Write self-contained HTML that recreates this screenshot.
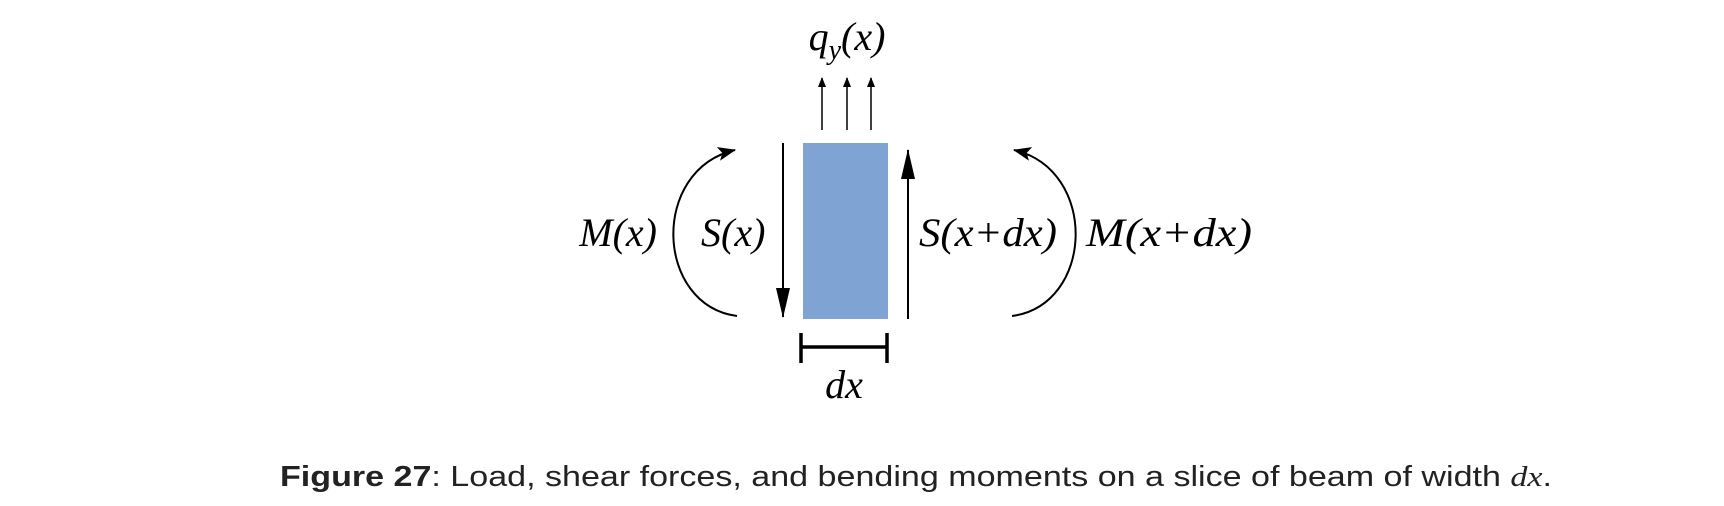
<!DOCTYPE html>
<html><head><meta charset="utf-8"><style>
html,body{margin:0;padding:0;background:#fff;width:1724px;height:506px;overflow:hidden}
svg{display:block}
.m{font-family:"Liberation Serif",serif;font-style:italic;font-size:40px;fill:#000}
</style></head><body>
<svg width="1724" height="506" viewBox="0 0 1724 506">
<defs>
<marker id="bigv" markerWidth="30" markerHeight="14" refX="29" refY="7" orient="auto" markerUnits="userSpaceOnUse" viewBox="0 0 30 14"><path d="M0,0 L30,7 L0,14 Z" fill="#000"/></marker>
<marker id="small" markerWidth="10" markerHeight="8" refX="9" refY="4" orient="auto" markerUnits="userSpaceOnUse" viewBox="0 0 10 8"><path d="M0,0 L10,4 L0,8 Z" fill="#000"/></marker>
<marker id="arc" markerWidth="18" markerHeight="14" refX="17" refY="7" orient="auto" markerUnits="userSpaceOnUse" viewBox="0 0 18 14"><path d="M0,0 L18,7 L0,14 L4,7 Z" fill="#000"/></marker>
</defs>
<text class="m" x="847" y="50" text-anchor="middle">q<tspan font-size="28" dy="9">y</tspan><tspan dy="-9">(x)</tspan></text>
<g stroke="#000" stroke-width="1.5">
<line x1="822" y1="130" x2="822" y2="78" marker-end="url(#small)"/>
<line x1="847" y1="130" x2="847" y2="78" marker-end="url(#small)"/>
<line x1="871" y1="130" x2="871" y2="78" marker-end="url(#small)"/>
</g>
<rect x="803" y="143" width="85" height="176" fill="#7fa3d3"/>
<line x1="783" y1="143" x2="783" y2="317" stroke="#000" stroke-width="2" marker-end="url(#bigv)"/>
<line x1="908" y1="319" x2="908" y2="150" stroke="#000" stroke-width="2" marker-end="url(#bigv)"/>
<path d="M737,316 C655,305 650,170 735,150" fill="none" stroke="#000" stroke-width="2" marker-end="url(#arc)"/>
<path d="M1012,316 C1094,305 1099,170 1014,150" fill="none" stroke="#000" stroke-width="2" marker-end="url(#arc)"/>
<text class="m" x="657" y="246" text-anchor="end">M(x)</text>
<text class="m" x="701" y="246">S(x)</text>
<text class="m" x="919" y="246" textLength="138" lengthAdjust="spacingAndGlyphs">S(x+dx)</text>
<text class="m" x="1086" y="246" textLength="166" lengthAdjust="spacingAndGlyphs">M(x+dx)</text>
<g stroke="#000" stroke-width="3.5">
<line x1="801" y1="347" x2="887" y2="347"/>
<line x1="801" y1="333" x2="801" y2="363"/>
<line x1="887" y1="333" x2="887" y2="363"/>
</g>
<text class="m" x="844" y="398" text-anchor="middle">dx</text>
<text x="280" y="486" font-family="Liberation Sans, sans-serif" font-size="29" fill="#222" textLength="1272" lengthAdjust="spacingAndGlyphs"><tspan font-weight="bold">Figure 27</tspan>: Load, shear forces, and bending moments on a slice of beam of width <tspan font-family="Liberation Serif, serif" font-style="italic">dx</tspan>.</text>
</svg>
</body></html>
